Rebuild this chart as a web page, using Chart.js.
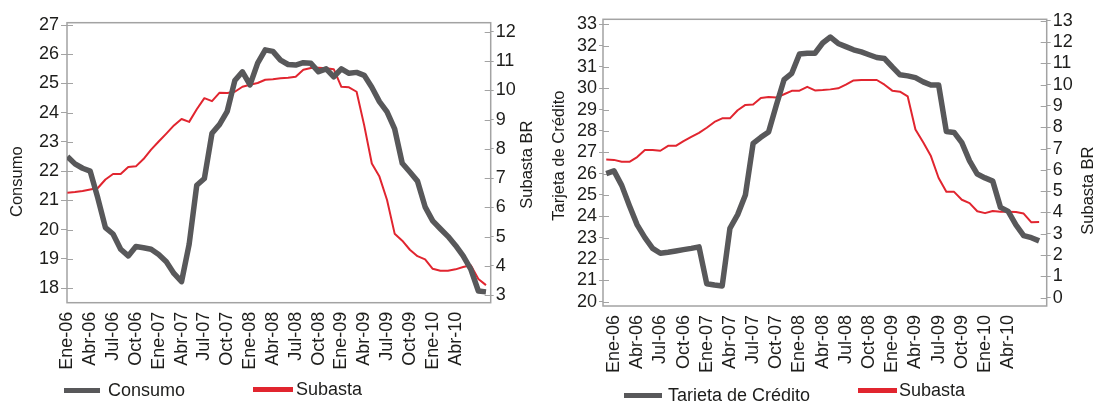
<!DOCTYPE html>
<html>
<head>
<meta charset="utf-8">
<script src="https://cdn.jsdelivr.net/npm/chart.js@4.4.1/dist/chart.umd.min.js"></script>
<style>
html,body{margin:0;padding:0;background:#fff;width:1093px;height:401px;overflow:hidden;position:relative;font-family:"Liberation Sans",Arial,Helvetica,sans-serif;}
.wrap{position:absolute;top:0;height:401px;}
#w1{left:0;width:545px;}
#w2{left:545px;width:548px;}
canvas{display:block;}
.lg{position:absolute;display:flex;align-items:center;font-size:18px;line-height:18px;height:18px;color:#1d1d1b;white-space:nowrap;}
.sw{display:inline-block;height:5px;}
</style>
</head>
<body>
<div class="wrap" id="w1"><canvas id="c1" width="545" height="401"></canvas></div>
<div class="wrap" id="w2"><canvas id="c2" width="548" height="401"></canvas></div>
<script>
// ---------- DATA ----------
const monthNames = ['Ene','Feb','Mar','Abr','May','Jun','Jul','Ago','Sep','Oct','Nov','Dic'];
// monthly categories, Dic-05 .. Ago-10
const months = ['Dic-05'];
for (let y = 6; y <= 10; y++) {
  for (let k = 0; k < 12; k++) {
    if (y === 10 && k > 7) break;
    months.push(monthNames[k] + '-' + String(y).padStart(2, '0'));
  }
}
const xTickLabels = ['Ene-06','Abr-06','Jul-06','Oct-06','Ene-07','Abr-07','Jul-07','Oct-07','Ene-08','Abr-08','Jul-08','Oct-08','Ene-09','Abr-09','Jul-09','Oct-09','Ene-10','Abr-10'];

// Left chart (Ene-06 .. Ago-10)
const consumo = [22.5, 22.25, 22.1, 22.0, 21.08, 20.07, 19.85, 19.33, 19.1, 19.42,
  19.38, 19.33, 19.15, 18.9, 18.5, 18.22, 19.5, 21.52, 21.75, 23.3,
  23.6, 24.05, 25.1, 25.4, 24.95, 25.7, 26.15, 26.1, 25.8, 25.65,
  25.63, 25.71, 25.69, 25.4, 25.5, 25.23, 25.5, 25.35, 25.38, 25.28,
  24.87, 24.38, 24.03, 23.45, 22.27, 21.97, 21.66, 20.78, 20.3, 20.03,
  19.77, 19.46, 19.1, 18.65, 17.9, 17.87];
const subastaConsumo = [6.5, 6.52, 6.56, 6.61, 6.66, 6.95, 7.14, 7.14, 7.38, 7.4,
  7.65, 7.97, 8.25, 8.52, 8.8, 9.02, 8.92, 9.35, 9.73, 9.63,
  9.92, 9.91, 9.95, 10.12, 10.19, 10.25, 10.36, 10.38, 10.41, 10.43,
  10.46, 10.7, 10.76, 10.77, 10.75, 10.72, 10.12, 10.1, 9.95, 8.8,
  7.5, 7.05, 6.25, 5.1, 4.86, 4.55, 4.33, 4.22, 3.9, 3.83,
  3.83, 3.88, 3.96, 4.02, 3.55, 3.34];

// Right chart (Dic-05 .. Ago-10)
const tarjeta = [26.0, 26.13, 25.45, 24.5, 23.6, 23.0, 22.5, 22.27, 22.32, 22.38,
  22.44, 22.5, 22.57, 20.84, 20.78, 20.74, 23.44, 24.08, 25.0, 27.42,
  27.7, 27.95, 29.2, 30.4, 30.7, 31.6, 31.64, 31.64, 32.12, 32.4,
  32.1, 31.95, 31.8, 31.7, 31.57, 31.44, 31.39, 31.0, 30.63, 30.58,
  30.5, 30.3, 30.15, 30.15, 27.97, 27.93, 27.45, 26.6, 25.98, 25.8,
  25.65, 24.42, 24.23, 23.6, 23.1, 23.0, 22.85];
const subastaTarjeta = [6.49, 6.47, 6.38, 6.38, 6.6, 6.93, 6.93, 6.9, 7.13, 7.13,
  7.35, 7.55, 7.74, 7.98, 8.25, 8.42, 8.42, 8.8, 9.05, 9.07,
  9.38, 9.42, 9.4, 9.55, 9.71, 9.72, 9.9, 9.73, 9.75, 9.78,
  9.83, 10.0, 10.2, 10.22, 10.22, 10.22, 10.0, 9.72, 9.67, 9.45,
  7.9, 7.3, 6.65, 5.62, 4.97, 4.97, 4.6, 4.44, 4.06, 3.97,
  4.07, 4.04, 4.03, 4.02, 3.95, 3.54, 3.55];

const consumoTicks = [18, 19, 20, 21, 22, 23, 24, 25, 26, 27];
const subastaTicks1 = [3, 4, 5, 6, 7, 8, 9, 10, 11, 12];
const tarjetaTicks = [20, 21, 22, 23, 24, 25, 26, 27, 28, 29, 30, 31, 32, 33];
const subastaTicks2 = [0, 1, 2, 3, 4, 5, 6, 7, 8, 9, 10, 11, 12, 13];

const title1Left = 'Consumo', title1Right = 'Subasta BR';
const title2Left = 'Tarjeta de Crédito', title2Right = 'Subasta BR';
const legend1 = ['Consumo', 'Subasta'];
const legend2 = ['Tarieta de Crédito', 'Subasta'];

// ---------- STYLE ----------
const FONT = '"Liberation Sans", Arial, Helvetica, sans-serif';
const TEXT = '#1d1d1b';
const AXIS = '#a3a3a3';
const GREY = '#58585a';
const RED = '#e1252f';

function series(values, startLabel) {
  const s = months.indexOf(startLabel);
  return values.map((v, i) => ({ x: s + i, y: v }));
}

const framePlugin = {
  id: 'frame',
  beforeDatasetsDraw(chart, args, opts) {
    const { ctx, chartArea: a } = chart;
    ctx.save();
    ctx.strokeStyle = opts.color;
    ctx.lineWidth = opts.width;
    ctx.strokeRect(a.left, a.top, a.right - a.left, a.bottom - a.top);
    ctx.lineWidth = 1;
    ['y', 'y1'].forEach(id => {
      const s = chart.scales[id];
      s.ticks.forEach(t => {
        const py = Math.round(s.getPixelForValue(t.value)) + 0.5;
        ctx.beginPath();
        if (id === 'y') { ctx.moveTo(a.left, py); ctx.lineTo(a.left + opts.inner, py); }
        else { ctx.moveTo(a.right - opts.inner, py); ctx.lineTo(a.right, py); }
        ctx.stroke();
      });
    });
    ctx.restore();
  }
};

const axisTitlePlugin = {
  id: 'axisTitles',
  afterDraw(chart, args, opts) {
    const { ctx, chartArea: a } = chart;
    (opts.items || []).forEach(it => {
      const s = chart.scales[it.scale];
      const x = it.side === 'left' ? s.left + it.offset : s.right - it.offset;
      const y = (a.top + a.bottom) / 2 + (it.shift || 0);
      ctx.save();
      ctx.translate(x, y);
      ctx.rotate(-Math.PI / 2);
      ctx.font = opts.size + 'px ' + FONT;
      ctx.fillStyle = TEXT;
      ctx.textAlign = 'center';
      ctx.textBaseline = 'middle';
      ctx.fillText(it.text, 0, 0);
      ctx.restore();
    });
  }
};

function yScale(position, min, max, tickValues, tickLen, width) {
  return {
    type: 'linear', position, min, max,
    afterBuildTicks: s => { s.ticks = tickValues.map(v => ({ value: v })); },
    afterFit: s => { s.width = width; },
    grid: { display: true, drawOnChartArea: false, drawTicks: true, tickLength: tickLen, color: AXIS, lineWidth: 1 },
    border: { display: false },
    ticks: { font: { family: FONT, size: 18 }, color: TEXT, padding: 2, autoSkip: false }
  };
}
function xScale(min, max, height) {
  return {
    type: 'linear', min, max,
    afterBuildTicks: s => { s.ticks = xTickLabels.map(l => ({ value: months.indexOf(l) })); },
    afterFit: s => { s.height = height; },
    grid: { display: false, drawTicks: false },
    border: { display: false },
    ticks: { font: { family: FONT, size: 18 }, color: TEXT, padding: 9, minRotation: 90, maxRotation: 90, autoSkip: false,
      callback: v => months[v] }
  };
}
function lineDs(label, data, axis, color, width) {
  return { label, data, yAxisID: axis, borderColor: color, backgroundColor: color, borderWidth: width,
    pointRadius: 0, tension: 0, borderJoinStyle: 'round', fill: false };
}

function makeChart(id, cfg) {
  return new Chart(document.getElementById(id), {
    type: 'line',
    data: { datasets: cfg.datasets },
    options: {
      responsive: false, animation: false, devicePixelRatio: 1, events: [],
      layout: { padding: { top: cfg.top, left: 0, right: 0, bottom: 0 } },
      scales: { x: cfg.x, y: cfg.y, y1: cfg.y1 },
      plugins: {
        legend: { display: false }, tooltip: { enabled: false },
        frame: { color: AXIS, width: 1.5, inner: 6 },
        axisTitles: { size: 16.5, items: cfg.titles }
      }
    },
    plugins: [framePlugin, axisTitlePlugin]
  });
}

const chart1 = makeChart('c1', {
  top: 22.7,
  datasets: [
    lineDs(legend1[0], series(consumo, 'Ene-06'), 'y', GREY, 5.5),
    lineDs(legend1[1], series(subastaConsumo, 'Ene-06'), 'y1', RED, 2)
  ],
  x: xScale(0.95, 56.62, 98.3),
  y: yScale('left', 17.5, 27.08, consumoTicks, 6, 67),
  y1: yScale('right', 2.74, 12.31, subastaTicks1, 3, 54.3),
  titles: [
    { text: title1Left, scale: 'y', side: 'left', offset: 17, shift: 19 },
    { text: title1Right, scale: 'y1', side: 'right', offset: 18, shift: 2 }
  ]
});

const chart2 = makeChart('c2', {
  top: 19.3,
  datasets: [
    lineDs(legend2[0], series(tarjeta, 'Dic-05'), 'y', GREY, 5.5),
    lineDs(legend2[1], series(subastaTarjeta, 'Dic-05'), 'y1', RED, 2)
  ],
  x: xScale(-0.42, 56.98, 95),
  y: yScale('left', 19.8, 33.23, tarjetaTicks, 4, 58),
  y1: yScale('right', -0.39, 13.07, subastaTicks2, 4, 46.3),
  titles: [
    { text: title2Left, scale: 'y', side: 'left', offset: 14, shift: -7 },
    { text: title2Right, scale: 'y1', side: 'right', offset: 5, shift: 28 }
  ]
});

// HTML legends built from each chart's datasets
function htmlLegend(chart, pageLeft, placements) {
  chart.data.datasets.forEach((ds, i) => {
    const p = placements[i];
    const item = document.createElement('div');
    item.className = 'lg';
    item.style.left = (pageLeft + p.left) + 'px';
    item.style.top = p.top + 'px';
    const sw = document.createElement('span');
    sw.className = 'sw';
    sw.style.width = p.sw + 'px';
    sw.style.background = ds.borderColor;
    sw.style.marginRight = p.gap + 'px';
    const tx = document.createElement('span');
    tx.textContent = ds.label;
    item.append(sw, tx);
    document.body.appendChild(item);
  });
}
htmlLegend(chart1, 0, [{ left: 64, top: 381, sw: 36, gap: 8 }, { left: 253, top: 380, sw: 40, gap: 3 }]);
htmlLegend(chart2, 545, [{ left: 79, top: 386, sw: 38, gap: 6 }, { left: 313, top: 381, sw: 39, gap: 2 }]);
</script>
</body>
</html>
